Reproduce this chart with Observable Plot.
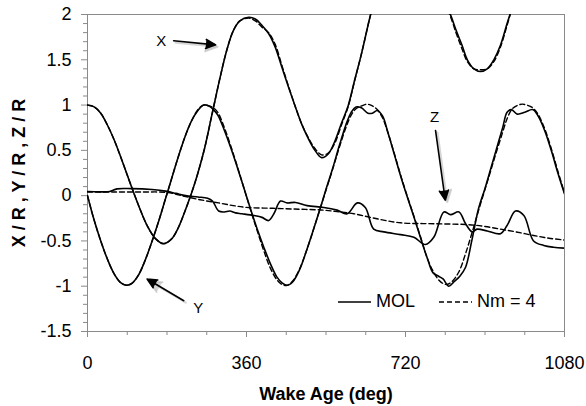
<!DOCTYPE html>
<html>
<head>
<meta charset="utf-8">
<script src="https://cdn.jsdelivr.net/npm/d3@7"></script>
<script src="https://cdn.jsdelivr.net/npm/@observablehq/plot@0.6"></script>
<style>
  html, body { margin: 0; padding: 0; background: #fff; }
  #wrap { position: relative; width: 586px; height: 406px; font-family: "Liberation Sans", Arial, sans-serif; }
  .legend { position: absolute; left: 338px; top: 291px; display: flex; align-items: center; font-size: 18px; color: #000; white-space: nowrap; }
  .legend .item { display: flex; align-items: center; }
  .legend .item + .item { margin-left: 24px; }
  .legend svg { margin-right: 5px; }
</style>
</head>
<body>
<div id="wrap"></div>
<script>
// ---- Data (wake age in degrees, value) ----
const xMOL = [[0,1.00],[15,0.98],[30,0.91],[45,0.78],[60,0.62],[75,0.43],[95,0.16],[115,-0.10],[135,-0.33],[155,-0.48],[172,-0.53],[190,-0.48],[205,-0.36],[220,-0.18],[235,0.02],[250,0.25],[265,0.52],[282,0.90],[300,1.30],[315,1.60],[330,1.82],[345,1.93],[365,1.97],[380,1.95],[395,1.88],[410,1.79],[425,1.64],[440,1.42],[455,1.20],[470,0.99],[485,0.79],[500,0.63],[515,0.50],[530,0.42],[545,0.46],[560,0.60],[575,0.80],[590,0.99],[605,1.28],[620,1.56],[640,1.98],[660,2.35],[690,2.75],[720,2.90],[750,2.75],[780,2.40],[805,2.15],[820,2.02],[835,1.82],[848,1.66],[860,1.50],[875,1.40],[890,1.37],[905,1.40],[920,1.50],[935,1.66],[950,1.90],[960,2.05],[990,2.50],[1030,2.95],[1080,3.30]];
const xNm4 = [[0,1.00],[15,0.98],[30,0.91],[45,0.78],[60,0.62],[75,0.43],[95,0.16],[115,-0.10],[135,-0.33],[155,-0.48],[172,-0.53],[190,-0.48],[205,-0.36],[220,-0.18],[235,0.02],[250,0.25],[265,0.52],[282,0.90],[300,1.30],[315,1.60],[330,1.82],[345,1.93],[365,1.96],[380,1.93],[395,1.86],[410,1.80],[425,1.67],[440,1.44],[455,1.21],[470,0.99],[485,0.79],[500,0.64],[515,0.52],[530,0.45],[545,0.47],[560,0.58],[575,0.78],[590,0.98],[605,1.27],[620,1.56],[640,1.98],[660,2.35],[690,2.75],[720,2.90],[750,2.75],[780,2.40],[805,2.15],[820,2.00],[835,1.79],[848,1.62],[860,1.48],[875,1.40],[890,1.39],[905,1.40],[920,1.48],[935,1.64],[950,1.88],[960,2.05],[990,2.50],[1030,2.95],[1080,3.30]];

const yMOL = [[0,0.00],[15,-0.27],[30,-0.50],[45,-0.70],[60,-0.86],[75,-0.96],[88,-0.99],[100,-0.97],[115,-0.88],[130,-0.72],[145,-0.52],[160,-0.30],[175,-0.06],[190,0.18],[205,0.42],[220,0.64],[235,0.82],[250,0.94],[263,1.00],[275,0.99],[285,0.95],[295,0.89],[310,0.72],[325,0.52],[340,0.30],[355,0.07],[370,-0.16],[385,-0.38],[400,-0.58],[414,-0.75],[429,-0.90],[440,-0.96],[452,-0.99],[465,-0.95],[480,-0.82],[495,-0.62],[510,-0.40],[525,-0.17],[540,0.07],[555,0.30],[570,0.55],[585,0.78],[597,0.92],[608,0.98],[620,0.97],[635,0.91],[645,0.91],[656,0.94],[668,0.88],[680,0.70],[695,0.45],[710,0.20],[725,-0.03],[740,-0.25],[755,-0.48],[770,-0.70],[782,-0.85],[795,-0.89],[805,-0.92],[818,-1.00],[830,-0.95],[843,-0.89],[856,-0.79],[870,-0.50],[885,-0.15],[900,0.08],[912,0.28],[925,0.50],[940,0.75],[950,0.92],[960,0.95],[973,0.90],[990,0.92],[1008,0.95],[1020,0.88],[1035,0.72],[1050,0.50],[1065,0.25],[1080,0.02]];
const yNm4 = [[0,0.00],[15,-0.27],[30,-0.50],[45,-0.70],[60,-0.86],[75,-0.96],[88,-0.99],[100,-0.97],[115,-0.88],[130,-0.72],[145,-0.52],[160,-0.30],[175,-0.06],[190,0.18],[205,0.42],[220,0.64],[235,0.82],[250,0.95],[263,1.00],[275,0.99],[285,0.97],[295,0.92],[310,0.75],[325,0.54],[340,0.31],[355,0.07],[370,-0.17],[385,-0.40],[400,-0.62],[414,-0.80],[429,-0.93],[440,-0.98],[452,-0.99],[465,-0.94],[480,-0.81],[495,-0.62],[510,-0.40],[525,-0.17],[540,0.06],[555,0.29],[570,0.53],[585,0.75],[597,0.89],[608,0.96],[620,0.99],[633,1.01],[645,0.99],[656,0.95],[668,0.86],[680,0.70],[695,0.46],[710,0.21],[725,-0.02],[740,-0.24],[755,-0.47],[770,-0.70],[782,-0.83],[795,-0.93],[805,-0.97],[814,-0.98],[825,-0.95],[841,-0.84],[856,-0.64],[870,-0.42],[885,-0.17],[900,0.07],[912,0.26],[925,0.47],[940,0.70],[950,0.85],[962,0.96],[975,1.00],[984,1.01],[995,1.00],[1008,0.97],[1020,0.90],[1035,0.74],[1050,0.52],[1065,0.27],[1080,0.03]];

const zMOL = [[0,0.045],[30,0.042],[50,0.045],[67,0.075],[100,0.077],[146,0.067],[177,0.05],[200,0.025],[222,0.0],[250,-0.015],[272,-0.03],[283,-0.06],[297,-0.17],[310,-0.18],[322,-0.17],[335,-0.19],[350,-0.20],[377,-0.22],[395,-0.24],[410,-0.275],[422,-0.20],[437,-0.06],[452,-0.08],[471,-0.075],[497,-0.11],[535,-0.13],[565,-0.16],[588,-0.20],[611,-0.08],[629,-0.13],[648,-0.37],[671,-0.40],[709,-0.43],[739,-0.46],[765,-0.54],[784,-0.46],[807,-0.18],[822,-0.21],[841,-0.18],[856,-0.31],[871,-0.40],[882,-0.37],[905,-0.39],[935,-0.42],[950,-0.33],[969,-0.17],[988,-0.22],[1010,-0.50],[1033,-0.55],[1055,-0.57],[1080,-0.58]];
const zNm4 = [[0,0.04],[60,0.04],[120,0.04],[180,0.035],[222,-0.01],[260,-0.05],[297,-0.08],[330,-0.11],[360,-0.13],[420,-0.14],[480,-0.15],[535,-0.16],[570,-0.18],[603,-0.20],[650,-0.25],[709,-0.30],[784,-0.31],[860,-0.32],[900,-0.34],[935,-0.37],[970,-0.40],[1010,-0.44],[1045,-0.47],[1080,-0.49]];

const xTicks = [0, 360, 720, 1080];
const xMinorTicks = [90, 180, 270, 450, 540, 630, 810, 900, 990];
const yTicks = [-1.5, -1, -0.5, 0, 0.5, 1, 1.5, 2];

const xLabel = "Wake Age (deg)";
const yLabel = "X / R , Y / R , Z / R";
const legendNames = ["MOL", "Nm = 4"];

// annotation labels & arrows in data units
const annotLabels = [
  {text: "X", deg: 167, val: 1.71},
  {text: "Y", deg: 251, val: -1.24},
  {text: "Z", deg: 786, val: 0.87}
];
const annotArrows = [
  {deg1: 195, val1: 1.71, deg2: 290, val2: 1.665},
  {deg1: 218, val1: -1.16, deg2: 135, val2: -0.92},
  {deg1: 788, val1: 0.72, deg2: 810, val2: -0.05}
];

// ---- Chart ----
const solid = {x: d => d[0], y: d => d[1], curve: "catmull-rom", clip: true, stroke: "#000", strokeWidth: 1.6};
const dashed = {...solid, strokeWidth: 1.4, strokeDasharray: "5,3"};
const yMinorTicks = d3.range(-15, 21).map(i => i / 10).filter(v => !yTicks.some(t => Math.abs(t - v) < 1e-9));
const gray = "#8a8a8a";

const chart = Plot.plot({
  width: 586,
  height: 406,
  marginLeft: 87,
  marginRight: 22,
  marginTop: 14,
  marginBottom: 75,
  style: {fontFamily: "'Liberation Sans', Arial, sans-serif", fontSize: "18px", background: "#fff", color: "#000", overflow: "visible"},
  x: {domain: [0, 1080]},
  y: {domain: [-1.5, 2]},
  marks: [
    Plot.frame({stroke: gray, strokeWidth: 1}),
    // minor ticks
    Plot.axisY({ticks: yMinorTicks, tickSize: 4, text: null, stroke: gray, label: null}),
    Plot.axisX({ticks: xMinorTicks, tickSize: 4, text: null, stroke: gray, label: null}),
    // major ticks
    Plot.axisY({ticks: yTicks, tickSize: 6, text: null, stroke: gray, label: null}),
    Plot.axisX({ticks: xTicks, tickSize: 6, text: null, stroke: gray, label: null}),
    // tick labels
    Plot.axisY({ticks: yTicks, tickSize: 0, tickPadding: 16, tickFormat: d => String(d), label: null, fill: "#000"}),
    Plot.axisX({ticks: xTicks, tickSize: 0, tickPadding: 25, tickFormat: d => String(d), label: null, fill: "#000"}),
    // axis titles
    Plot.text([yLabel], {frameAnchor: "left", dx: -68, rotate: -90, textAnchor: "middle", lineAnchor: "middle", fontWeight: "bold", fontSize: 18, fill: "#000"}),
    Plot.text([xLabel], {frameAnchor: "bottom", dy: 63, textAnchor: "middle", lineAnchor: "middle", fontWeight: "bold", fontSize: 18, fill: "#000"}),
    // curves
    Plot.line(xNm4, dashed),
    Plot.line(yNm4, dashed),
    Plot.line(zNm4, dashed),
    Plot.line(xMOL, solid),
    Plot.line(yMOL, solid),
    Plot.line(zMOL, solid),
    // annotations (shadow then arrow, filled heads)
    Plot.arrow(annotArrows, {x1: "deg1", y1: "val1", x2: "deg2", y2: "val2", stroke: "#bbb", fill: "#bbb", strokeWidth: 2, headLength: 10, headAngle: 50, dx: 2, dy: 2, strokeOpacity: 0.6, fillOpacity: 0.6}),
    Plot.arrow(annotArrows, {x1: "deg1", y1: "val1", x2: "deg2", y2: "val2", stroke: "#000", fill: "#000", strokeWidth: 1.6, headLength: 10, headAngle: 50}),
    Plot.text(annotLabels, {x: "deg", y: "val", text: "text", fontSize: 15, fill: "#000"})
  ]
});

const wrap = document.getElementById("wrap");
wrap.appendChild(chart);

// legend inside plot area
const legend = document.createElement("div");
legend.className = "legend";
legendNames.forEach((name, i) => {
  const item = document.createElement("div");
  item.className = "item";
  const dash = i === 0 ? "" : ' stroke-dasharray="5,3"';
  item.innerHTML = `<svg width="33" height="6"><line x1="0" y1="3" x2="33" y2="3" stroke="#000" stroke-width="1.5"${dash}/></svg><span>${name}</span>`;
  legend.appendChild(item);
});
wrap.appendChild(legend);
</script>
</body>
</html>
